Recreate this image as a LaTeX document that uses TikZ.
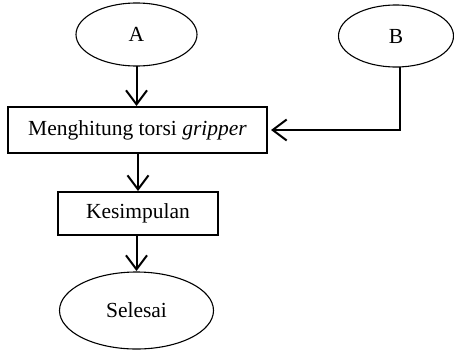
\documentclass[tikz,border=0pt]{standalone}
\usepackage{fontspec}
\setmainfont{Liberation Serif}
\usetikzlibrary{arrows.meta,shapes.geometric,calc}
\begin{document}
\begin{tikzpicture}[x=1pt,y=1pt,
 term/.style={draw, ellipse, line width=1.1pt, inner sep=0pt, outer sep=0pt},
 procbox/.style={draw, rectangle, line width=1.1pt, inner sep=0pt, outer sep=0pt},
 flow/.style={line width=2pt, -{Straight Barb[length=14pt,width=21pt,line width=2pt]}},
 font=\fontsize{21.5}{25}\selectfont]
\useasboundingbox (0,0) rectangle (454,-351);
\node[term, minimum width=121pt, minimum height=63pt] (A) at (136.5,-34.5) {A};
\node[term, minimum width=115pt, minimum height=62pt] (B) at (396,-36) {B};
\node[procbox, minimum width=259pt, minimum height=46pt] (M) at (137.5,-130) {Menghitung torsi \textit{gripper}};
\node[procbox, minimum width=160pt, minimum height=43pt] (K) at (138,-213.5) {Kesimpulan};
\node[term, minimum width=154pt, minimum height=77pt] (S) at (136.5,-310.5) {Selesai};
\coordinate (b) at ($(B.south)+(3.5,0)$);
\draw[flow, shorten >=1pt] (A.south) -- (A.south |- M.north);
\draw[flow, shorten >=1pt] (K.north |- M.south) -- (K.north);
\draw[flow, shorten >=1pt] (S.north |- K.south) -- (S.north);
\draw[flow, shorten >=4pt] (b) |- (M.east);
\end{tikzpicture}
\end{document}
